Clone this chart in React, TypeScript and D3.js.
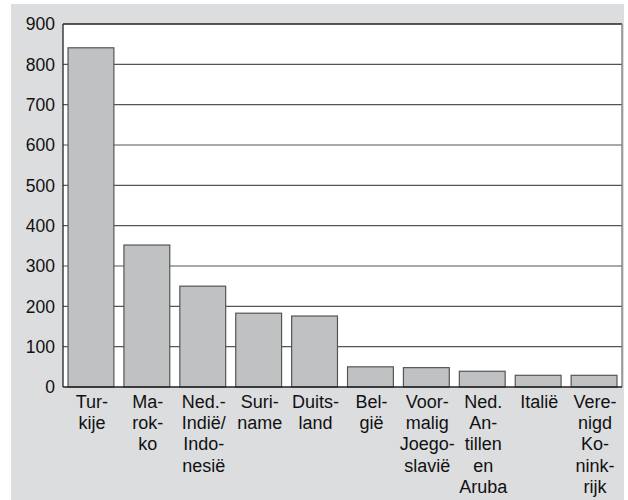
import React from "react";
import * as d3 from "d3";

const categories: string[][] = [
  ["Tur-", "kije"],
  ["Ma-", "rok-", "ko"],
  ["Ned.-", "Indië/", "Indo-", "nesië"],
  ["Suri-", "name"],
  ["Duits-", "land"],
  ["Bel-", "gië"],
  ["Voor-", "malig", "Joego-", "slavië"],
  ["Ned.", "An-", "tillen", "en", "Aruba"],
  ["Italië"],
  ["Vere-", "nigd", "Ko-", "nink-", "rijk"],
];
const values: number[] = [841, 352, 250, 183, 176, 50, 48, 39, 29, 29];
const yTicks: number[] = [0, 100, 200, 300, 400, 500, 600, 700, 800, 900];

export default function App() {
  const W = 628, H = 500;
  const left = 63, right = 622, top = 24, bottom = 387;
  const x = d3.scaleBand<number>().domain(values.map((_, i) => i)).range([left, right]).paddingInner(0.18).paddingOuter(0.09);
  const y = d3.scaleLinear().domain([0, 900]).range([bottom, top]);
  const font = "'Liberation Sans', Arial, sans-serif";
  return (
    <svg width={W} height={H} style={{ position: "absolute", left: 0, top: 0 }}>
      <rect x={11} y={4} width={613} height={496} fill="#dcdddf" />
      <rect x={left} y={top} width={right - left} height={bottom - top} fill="#ffffff" />
      {yTicks.map((t) => (
        <g key={t}>
          {t > 0 && t < 900 && (
            <line x1={left} x2={right} y1={y(t)} y2={y(t)} stroke="#555" strokeWidth={1.2} />
          )}
          <text x={55} y={y(t)} dy="0.36em" textAnchor="end" fontFamily={font} fontSize={17.5} fill="#111">
            {t}
          </text>
        </g>
      ))}
      {values.map((v, i) => (
        <rect key={i} x={x(i)!} y={y(v)} width={x.bandwidth()} height={bottom - y(v)} fill="#c0c1c3" stroke="#555" strokeWidth={1.2} />
      ))}
      <line x1={left} x2={right} y1={top} y2={top} stroke="#222" strokeWidth={1.3} />
      <line x1={right} x2={right} y1={top} y2={bottom} stroke="#777" strokeWidth={1.3} />
      <line x1={left} x2={left} y1={top} y2={bottom} stroke="#222" strokeWidth={1.3} />
      <line x1={left} x2={right} y1={bottom} y2={bottom} stroke="#222" strokeWidth={1.3} />
      {categories.map((lines, i) => (
        <text key={i} textAnchor="middle" fontFamily={font} fontSize={18} fill="#111">
          {lines.map((l, j) => (
            <tspan key={j} x={x(i)! + x.bandwidth() / 2 + 1} y={408 + j * 21.2}>
              {l}
            </tspan>
          ))}
        </text>
      ))}
    </svg>
  );
}
